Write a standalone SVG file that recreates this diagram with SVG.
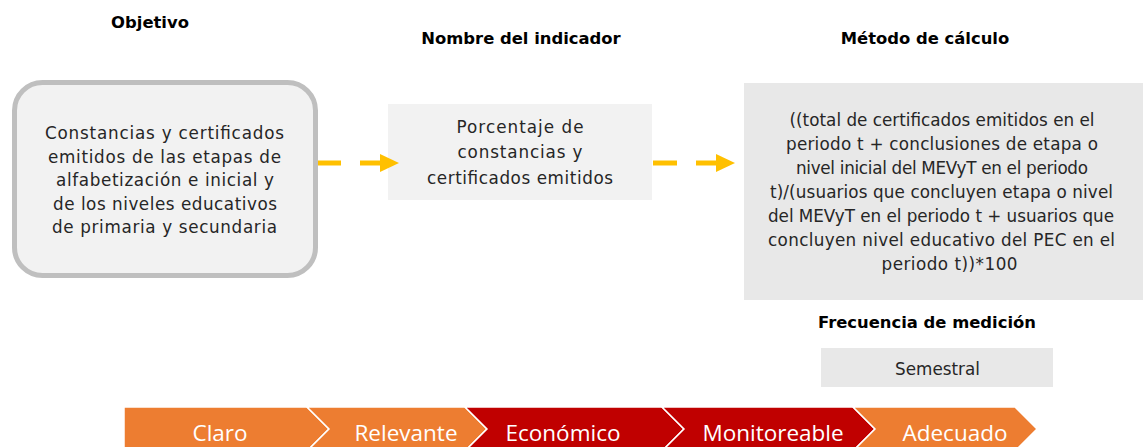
<svg xmlns="http://www.w3.org/2000/svg" width="1143" height="447" viewBox="0 0 1143 447">
<style>
.h{font-family:"DejaVu Sans","Liberation Sans",sans-serif;font-weight:bold;font-size:16.4px;fill:#000;text-anchor:middle}
.t{font-family:"DejaVu Sans","Liberation Sans",sans-serif;font-size:16.8px;fill:#262626;text-anchor:middle}
.c{font-family:"Open Sans","Liberation Sans",sans-serif;font-size:22.5px;fill:#fff;text-anchor:middle}
.dash{stroke:#FFC000;stroke-width:5;fill:none}
.orange{fill:#ED7D31;stroke:#fff;stroke-width:1.5}
.red{fill:#C00000;stroke:#fff;stroke-width:1.5}
</style>
<rect width="1143" height="447" fill="#fff"/>
<text class="h" x="150" y="28">Objetivo</text>
<text class="h" x="521" y="44">Nombre del indicador</text>
<text class="h" x="925" y="44">Método de cálculo</text>
<text class="h" x="927" y="328">Frecuencia de medición</text>

<g id="objetivo">
<rect x="14.5" y="82.5" width="301" height="193" rx="28" ry="28" fill="#f2f2f2" stroke="#bfbfbf" stroke-width="5"/>
<text class="t" x="164.5" y="139" textLength="239" lengthAdjust="spacing">Constancias y certificados</text>
<text class="t" x="164.5" y="163" textLength="233" lengthAdjust="spacing">emitidos de las etapas de</text>
<text class="t" x="165" y="186" textLength="218" lengthAdjust="spacing">alfabetización e inicial y</text>
<text class="t" x="165" y="210" textLength="224" lengthAdjust="spacing">de los niveles educativos</text>
<text class="t" x="164.5" y="233" textLength="225" lengthAdjust="spacing">de primaria y secundaria</text>
</g>

<g id="indicador">
<rect x="388" y="104" width="264" height="96" fill="#f2f2f2"/>
<text class="t" x="520" y="133" textLength="127" lengthAdjust="spacing">Porcentaje de</text>
<text class="t" x="520" y="158" textLength="125" lengthAdjust="spacing">constancias y</text>
<text class="t" x="520" y="184" textLength="186" lengthAdjust="spacing">certificados emitidos</text>
</g>

<g id="metodo">
<rect x="744" y="83" width="399" height="217" fill="#e8e8e8"/>
<text class="t" x="942" y="126" textLength="305" lengthAdjust="spacing">((total de certificados emitidos en el</text>
<text class="t" x="942" y="150" textLength="312" lengthAdjust="spacing">periodo t + conclusiones de etapa o</text>
<text class="t" x="942" y="174" textLength="292" lengthAdjust="spacing">nivel inicial del MEVyT en el periodo</text>
<text class="t" x="941.5" y="198" textLength="343" lengthAdjust="spacing">t)/(usuarios que concluyen etapa o nivel</text>
<text class="t" x="941" y="222" textLength="346" lengthAdjust="spacing">del MEVyT en el periodo t + usuarios que</text>
<text class="t" x="941.5" y="246" textLength="347" lengthAdjust="spacing">concluyen nivel educativo del PEC en el</text>
<text class="t" x="949.5" y="270" textLength="136" lengthAdjust="spacing">periodo t))*100</text>
</g>

<g id="frecuencia">
<rect x="821" y="348" width="232" height="39" fill="#e8e8e8"/>
<text class="t" x="937.5" y="375" textLength="85" lengthAdjust="spacing">Semestral</text>
</g>

<g id="connectors">
<line class="dash" x1="318" y1="163" x2="341" y2="163"/>
<line class="dash" x1="360" y1="163" x2="380" y2="163"/>
<path d="M380,154 L399,163 L380,172 z" fill="#FFC000"/>
<line class="dash" x1="653" y1="163" x2="677" y2="163"/>
<line class="dash" x1="696" y1="163" x2="716" y2="163"/>
<path d="M716,154 L735,163 L716,172 z" fill="#FFC000"/>
</g>

<g id="criterios">
<polygon class="orange" points="124,407 307,407 329,429 307,451 124,451"/>
<polygon class="orange" points="307,407 465,407 487,429 465,451 307,451 329,429"/>
<polygon class="red" points="465,407 662,407 684,429 662,451 465,451 487,429"/>
<polygon class="red" points="662,407 853,407 875,429 853,451 662,451 684,429"/>
<polygon class="orange" points="853,407 1015,407 1037,429 1015,451 853,451 875,429"/>
<text class="c" x="220" y="441">Claro</text>
<text class="c" x="406" y="441">Relevante</text>
<text class="c" x="563" y="441">Económico</text>
<text class="c" x="773" y="441">Monitoreable</text>
<text class="c" x="955" y="441">Adecuado</text>
</g>
</svg>
